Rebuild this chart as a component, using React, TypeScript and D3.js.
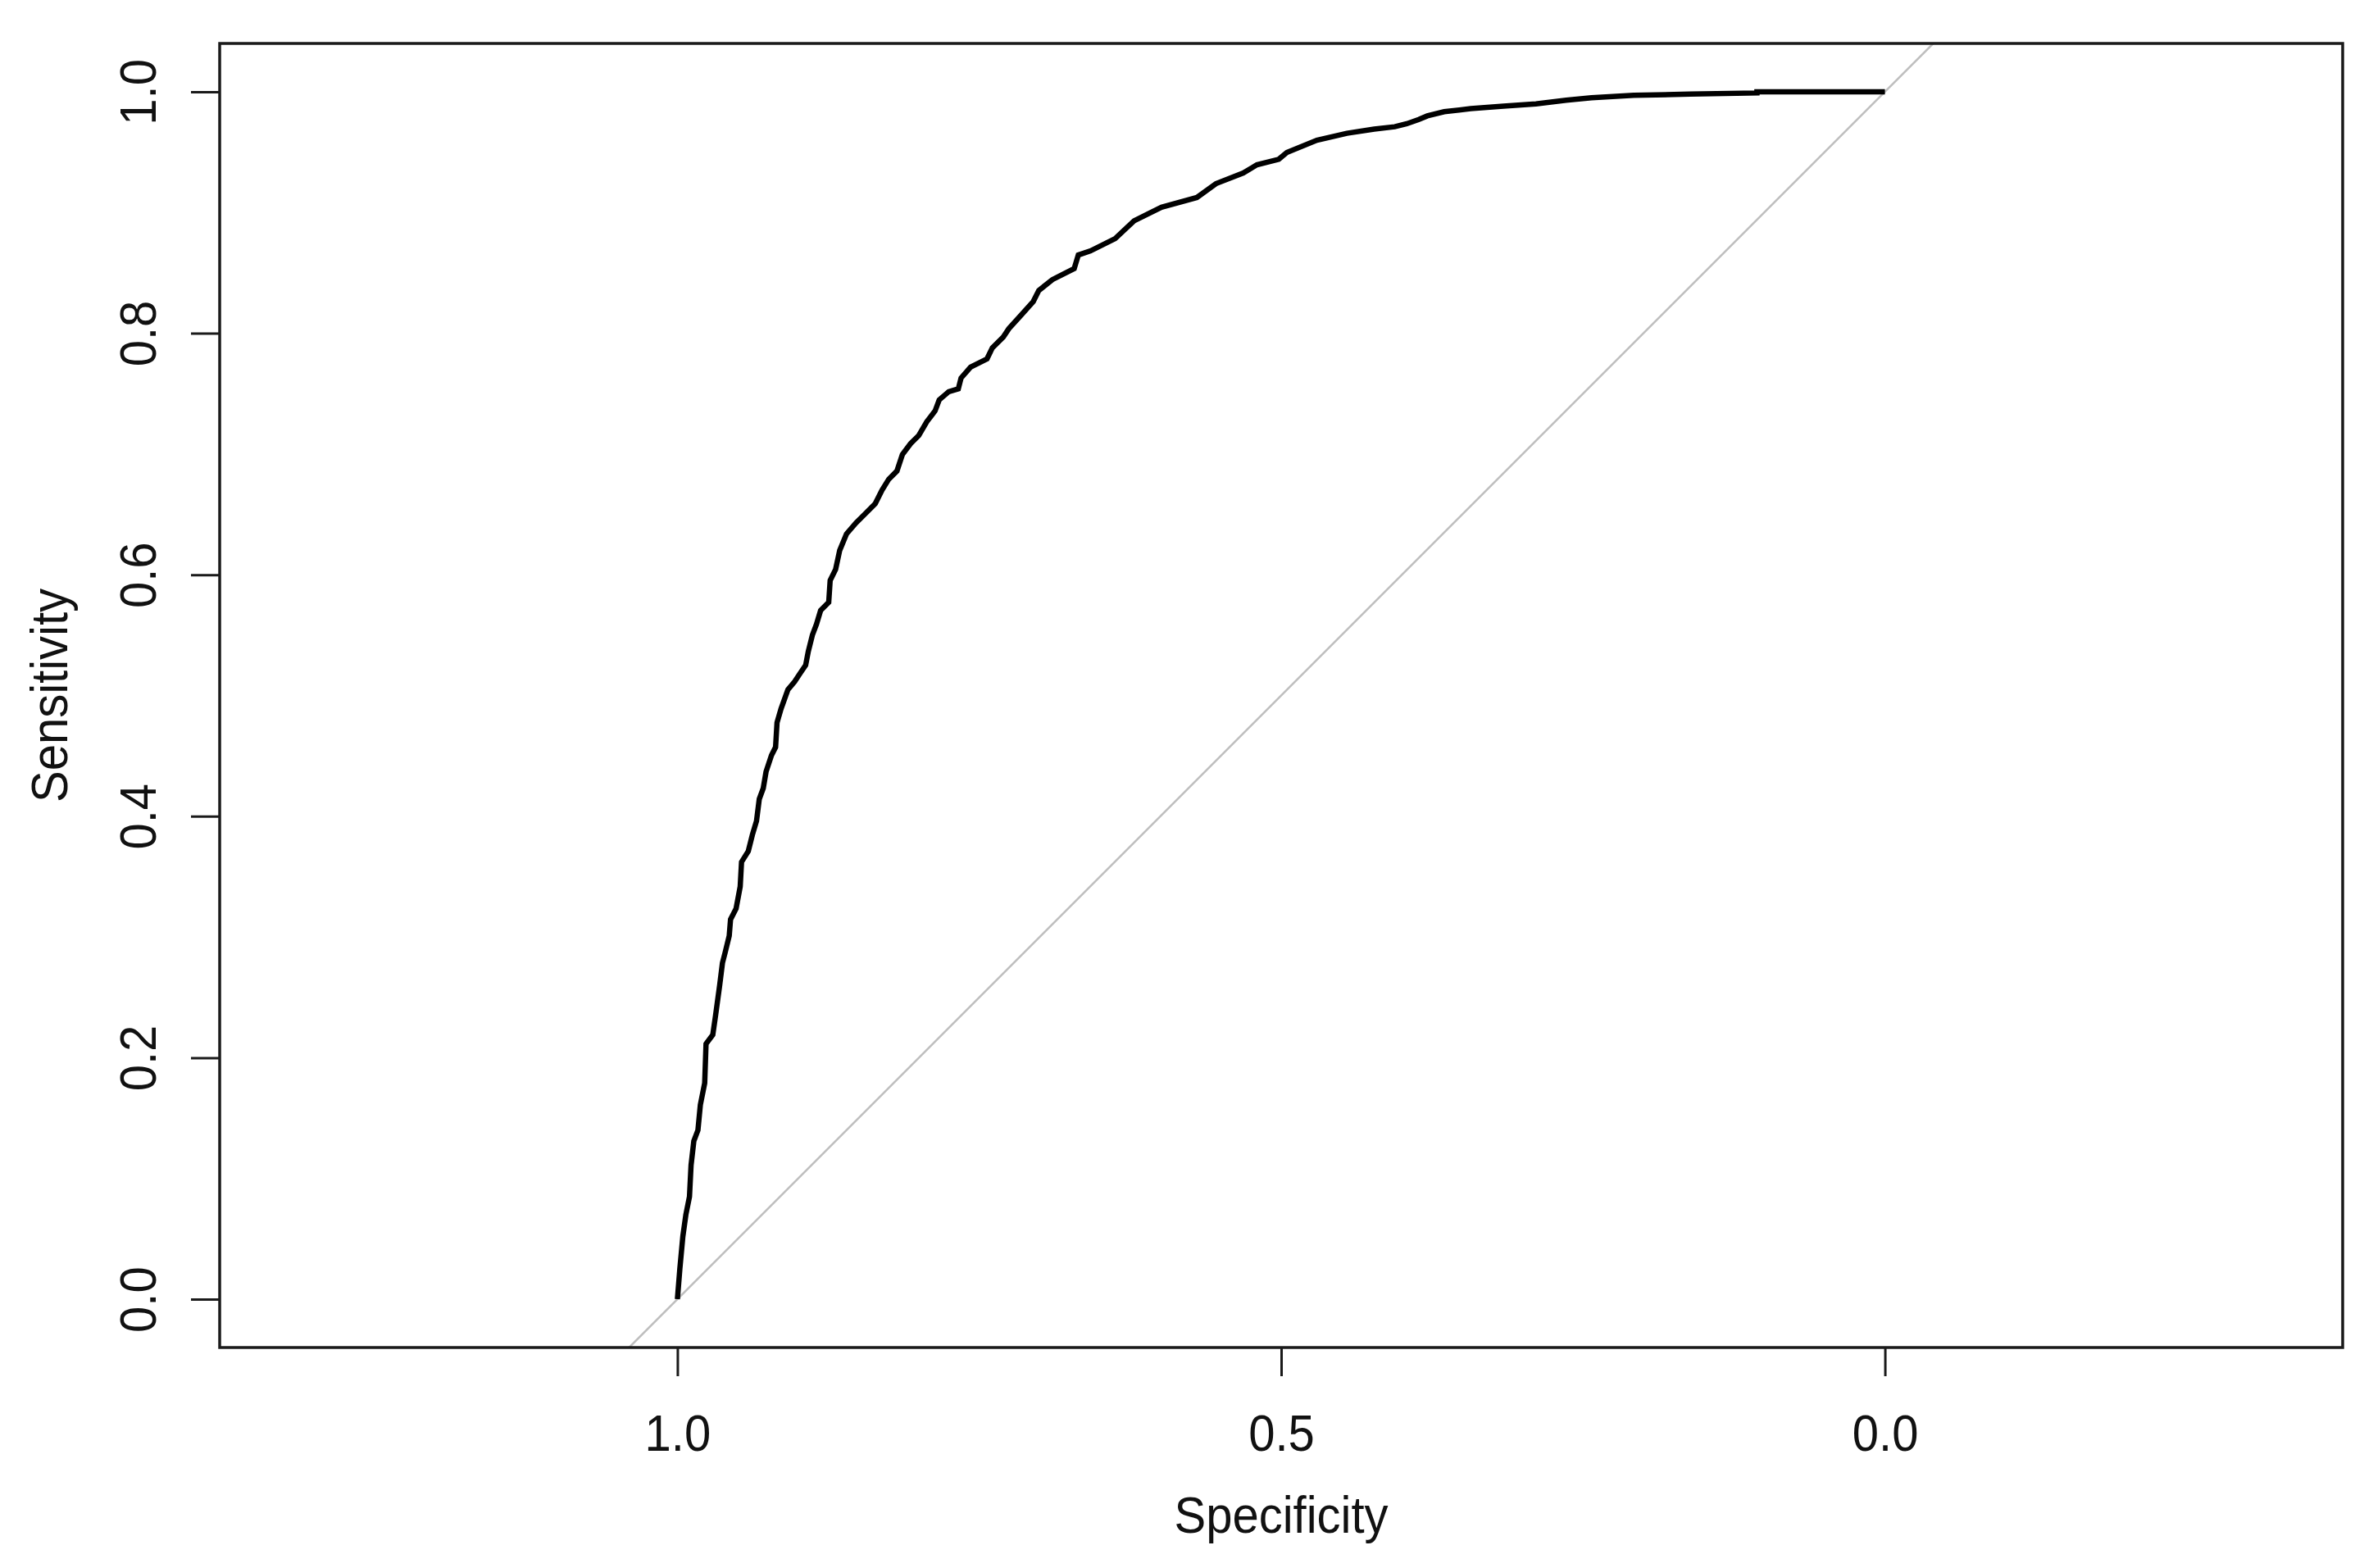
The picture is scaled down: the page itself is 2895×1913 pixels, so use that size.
import React, { useEffect, useRef } from "react";
import * as d3 from "d3";

// ROC curve: specificity runs 1 -> 0, sensitivity 0 -> 1
const specificity = [
  1.0, 0.998, 0.9955, 0.993, 0.99, 0.9887, 0.9864, 0.983, 0.981, 0.9774,
  0.9763, 0.9707, 0.9684, 0.965, 0.9627, 0.9605, 0.9571, 0.956, 0.9514, 0.948,
  0.9469, 0.9413, 0.9379, 0.9345, 0.9322, 0.9289, 0.9266, 0.9221, 0.9187, 0.9175,
  0.9142, 0.9085, 0.9029, 0.8984, 0.8938, 0.8916, 0.8882, 0.8848, 0.8814, 0.8747,
  0.8735, 0.869, 0.8656, 0.86, 0.8521, 0.8453, 0.8362, 0.8306, 0.825, 0.8182,
  0.8137, 0.8069, 0.8001, 0.7934, 0.7866, 0.7832, 0.7753, 0.7674, 0.7651, 0.7572,
  0.7436, 0.7392, 0.7301, 0.7256, 0.7154, 0.7053, 0.7007, 0.6895, 0.6714, 0.668,
  0.6579, 0.6375, 0.6218, 0.5991, 0.5698, 0.554, 0.5314, 0.5201, 0.502, 0.4953,
  0.4704, 0.4456, 0.423, 0.406, 0.396, 0.386, 0.379, 0.365, 0.343, 0.316,
  0.289, 0.264, 0.243, 0.208, 0.161, 0.106, 0.106, 0.0,
];
const sensitivity = [
  0.0, 0.025, 0.052, 0.07, 0.085, 0.111, 0.131, 0.14, 0.161, 0.179,
  0.2115, 0.219, 0.235, 0.26, 0.2785, 0.287, 0.301, 0.3145, 0.3236, 0.3417,
  0.3621, 0.3711, 0.3847, 0.3961, 0.4142, 0.4232, 0.4368, 0.4504, 0.4572, 0.4776,
  0.4889, 0.5048, 0.5115, 0.5183, 0.5251, 0.5365, 0.5501, 0.5591, 0.5704, 0.5772,
  0.5953, 0.6044, 0.6202, 0.6338, 0.6429, 0.6497, 0.6588, 0.67, 0.6791, 0.6859,
  0.6995, 0.7086, 0.7154, 0.7268, 0.7357, 0.7448, 0.7516, 0.7539, 0.7629, 0.772,
  0.7788, 0.7879, 0.7969, 0.8037, 0.815, 0.8263, 0.8354, 0.8444, 0.8535, 0.8648,
  0.8682, 0.8784, 0.8931, 0.9044, 0.9124, 0.9239, 0.9327, 0.9395, 0.9441, 0.9497,
  0.9599, 0.9656, 0.969, 0.971, 0.9735, 0.977, 0.98, 0.9835, 0.986, 0.988,
  0.99, 0.993, 0.995, 0.997, 0.998, 0.999, 1.0, 1.0,
];

const xTicks = [1.0, 0.5, 0.0];
const yTicks = [0.0, 0.2, 0.4, 0.6, 0.8, 1.0];
const xTitle = "Specificity";
const yTitle = "Sensitivity";

const FONT = "'Liberation Sans', Arial, sans-serif";
// windows R text comes out a little taller than it is wide
const STRETCH = "scale(1,1.08)";

const App = () => {
  const ref = useRef<SVGSVGElement>(null);

  useEffect(() => {
    const width = 2895;
    const height = 1913;
    const margin = { top: 53, right: 37, bottom: 269, left: 268 };
    const innerW = width - margin.left - margin.right;
    const innerH = height - margin.top - margin.bottom;

    const root = d3.select(ref.current);
    root.selectAll("*").remove();

    // y gets R's 4% padding, x is widened so one unit is the same length (asp = 1)
    const yDomain = [-0.04, 1.04];
    const pxPerUnit = innerH / (yDomain[1] - yDomain[0]);
    const halfX = innerW / 2 / pxPerUnit;
    const xScale = d3.scaleLinear().domain([0.5 + halfX, 0.5 - halfX]).range([0, innerW]);
    const yScale = d3.scaleLinear().domain(yDomain).range([innerH, 0]);

    const svg = root.append("g").attr("transform", `translate(${margin.left},${margin.top})`);

    svg.append("clipPath").attr("id", "plotClip")
      .append("rect").attr("width", innerW).attr("height", innerH);

    // identity line (grey), clipped to the plot box
    const diag = [yDomain[0], yDomain[1]].map((s) => [1 - s, s]);
    svg.append("path")
      .datum(diag)
      .attr("clip-path", "url(#plotClip)")
      .attr("fill", "none")
      .attr("stroke", "#bebebe")
      .attr("stroke-width", 2.5)
      .attr("d", d3.line().x((d) => xScale(d[0])).y((d) => yScale(d[1])));

    // roc curve
    const pts = specificity.map((s, i) => [s, sensitivity[i]]);
    svg.append("path")
      .datum(pts)
      .attr("fill", "none")
      .attr("stroke", "#000")
      .attr("stroke-width", 6.5)
      .attr("stroke-linejoin", "miter")
      .attr("d", d3.line().x((d) => xScale(d[0])).y((d) => yScale(d[1])));

    // box
    svg.append("rect")
      .attr("width", innerW)
      .attr("height", innerH)
      .attr("fill", "none")
      .attr("stroke", "#1a1a1a")
      .attr("stroke-width", 3.5);

    // x axis
    const gx = svg.append("g")
      .attr("transform", `translate(0,${innerH})`)
      .call(d3.axisBottom(xScale).tickValues(xTicks).tickSize(35).tickFormat(d3.format(".1f")));
    gx.select(".domain").remove();
    gx.selectAll("line").attr("stroke", "#1a1a1a").attr("stroke-width", 3);
    gx.selectAll("text")
      .attr("y", null)
      .attr("dy", null)
      .attr("transform", `translate(0,126) ${STRETCH}`)
      .attr("fill", "#111")
      .style("font-family", FONT)
      .style("font-size", "58px");

    // y axis, labels turned like R's las = 0
    const gy = svg.append("g")
      .call(d3.axisLeft(yScale).tickValues(yTicks).tickSize(35).tickFormat(d3.format(".1f")));
    gy.select(".domain").remove();
    gy.selectAll("line").attr("stroke", "#1a1a1a").attr("stroke-width", 3);
    gy.selectAll("text")
      .attr("x", null)
      .attr("dy", null)
      .attr("transform", `translate(-78,0) rotate(-90) ${STRETCH}`)
      .attr("text-anchor", "middle")
      .attr("fill", "#111")
      .style("font-family", FONT)
      .style("font-size", "58px");

    // titles
    svg.append("text")
      .attr("transform", `translate(${innerW / 2},${innerH + 226}) ${STRETCH}`)
      .attr("text-anchor", "middle")
      .attr("fill", "#111")
      .style("font-family", FONT)
      .style("font-size", "58px")
      .text(xTitle);

    svg.append("text")
      .attr("transform", `translate(${82 - margin.left},${innerH / 2}) rotate(-90) ${STRETCH}`)
      .attr("text-anchor", "middle")
      .attr("fill", "#111")
      .style("font-family", FONT)
      .style("font-size", "58px")
      .text(yTitle);
  }, []);

  return (
    <svg
      ref={ref}
      width={2895}
      height={1913}
      style={{ position: "absolute", left: 0, top: 0, background: "#fff" }}
    />
  );
};

export default App;
